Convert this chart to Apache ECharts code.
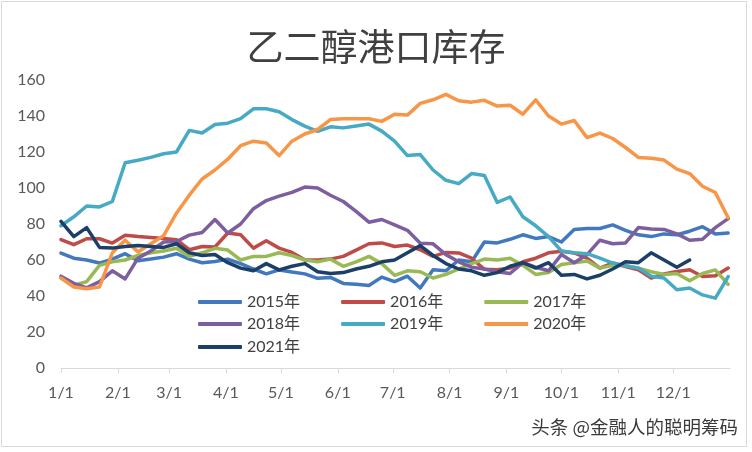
<!DOCTYPE html>
<html><head><meta charset="utf-8">
<script src="https://cdn.jsdelivr.net/npm/echarts@6/dist/echarts.min.js"></script>
<style>html,body{margin:0;padding:0;background:#fff}#c{width:752px;height:452px}</style>
</head><body><div id="c"></div>
<script>
const weekDates = ['01-01','01-08','01-15','01-22','01-29','02-05','02-12','02-19','02-26','03-05','03-12','03-19','03-26',
  '04-02','04-09','04-16','04-23','04-30','05-07','05-14','05-21','05-28','06-04','06-11','06-18','06-25',
  '07-02','07-09','07-16','07-23','07-30','08-06','08-13','08-20','08-27','09-03','09-10','09-17','09-24',
  '10-01','10-08','10-15','10-22','10-29','11-05','11-12','11-19','11-26','12-03','12-10','12-17','12-24','12-31'];
const seriesNames = ['2015年','2016年','2017年','2018年','2019年','2020年','2021年'];
const y2015 = [63.8,61,60,58.3,60.5,63.5,59.6,60.5,61.6,63.5,60.5,58.5,59.2,60.5,58,55,52.3,54.5,53.3,52.3,49.8,50.3,47,46.5,45.8,50.5,48,51,44.4,54.6,54,60,59,70,69.5,71.5,74,72,73,70,77,77.5,77.5,79.5,76.5,74,73,74.5,74,76,78.5,74.5,75];
const y2016 = [71.3,68.5,71.8,71.8,69.4,73.7,73,72.5,72,71.3,65.7,67.5,67.2,75,74,66.6,70.7,66.6,64.2,60.1,60,60.5,62,65.5,69,69.5,67.5,68.3,65.7,62,64.2,63.9,61,54.8,54.6,55.5,59,61,64,64.8,63.9,61,55.5,58.3,56.4,54.6,50,52.3,53.6,54.6,50.8,51.2,55.5];
const y2017 = [50,46,48,57,59,60,62.5,64,65,66.5,62,64,66.5,65.5,60,62,62,64,62.5,60,59,60.5,56.5,59,62,58,51.5,54,53.5,50,52,55,58,60.5,60,61,57,52,53,57.5,58.5,59.5,55.5,57,57,55.5,53.5,52,52.5,48.5,52.5,54.5,46.5];
const y2018 = [51,47,44.5,48,54,49.5,61,65,70,70.3,73.8,75.3,82.5,75,80,88.5,93,95.5,97.6,100.5,100,96,92.5,87,81,82.5,79.5,76.5,69.3,69,63,59,56,55,53.5,52.5,58.5,56,54,63,58.5,63,71,69,69.5,78,77.2,77,74.5,71,71.5,78,83];
const y2019 = [79,84,90,89.5,92.5,114,115.4,117,119,120,132,130.6,135.3,136,138.5,144,144,142.4,138,134.4,131.5,134,133.4,134.5,135.5,131.6,126,118,118.6,110,104.3,102.4,108,107,92,95,84,79,73,65,64,63.5,61,58.3,56.8,55.5,51,50,43.5,44.4,40.6,38.8,50.8];
const y2020 = [50,45,44,45,64,71,64.5,69,73.5,86,96,105,110,116,123.5,126,125,118,126,130,132.5,138,138.5,138.5,138.5,137,141,140.5,147,149,152,148.5,147.7,148.7,145.5,146,141,149,140,135.5,137.5,128,130.5,127.5,122.5,117,116.5,115.5,110.5,108,101,97.5,83.5];
const y2021 = [81.5,73,78,67,66.6,67.5,68,67.5,67,69,64,62.5,63,58.5,55.5,54,58,54.5,56.5,58,53.5,52.5,53,55,56.5,59,60,64,68,62.5,58,55,54,51.5,53,56.5,58.5,55.5,58.5,51.5,52,49.5,51.5,55,59,58.5,64,60,56,60];
const colors = ['#4178BE','#BE4B48','#98B954','#7D5FA0','#46AAC5','#F79646','#1B3F68'];
const allValues = [y2015,y2016,y2017,y2018,y2019,y2020,y2021];

const chart = echarts.init(document.getElementById('c'), null, {renderer:'canvas'});
const mk = v => v.map((y,i)=>['2021-'+weekDates[i], y]);
const font = 'Lato, "Noto Sans CJK SC", sans-serif';
const legendRow = (names, top) => ({left:193, top:top, itemGap:41, itemWidth:44, itemHeight:4, icon:'roundRect',
    data:names, textStyle:{fontFamily:font, fontSize:16, color:'#404040'}});
chart.setOption({
  animation:false,
  backgroundColor:'#fff',
  title:{text:'乙二醇港口库存', left:'center', top:23,
    textStyle:{fontFamily:'"Noto Sans CJK SC", sans-serif', fontSize:37, fontWeight:'normal', color:'#404040'}},
  grid:{left:61, right:22, top:80, bottom:84},
  legend:[legendRow(seriesNames.slice(0,3), 289), legendRow(seriesNames.slice(3,6), 311), legendRow(seriesNames.slice(6), 334)],
  xAxis:{type:'time', min:'2021-01-01', max:'2022-01-01', splitNumber:12,
    minInterval:28*864e5, maxInterval:31*864e5,
    axisLine:{lineStyle:{color:'#d9d9d9', width:1}},
    axisTick:{show:true, length:5, lineStyle:{color:'#d9d9d9'}},
    splitLine:{show:false},
    axisLabel:{formatter:v=>{const d=new Date(v); return d.getFullYear()>2021?'':(d.getMonth()+1)+'/'+d.getDate();},
      margin:17, color:'#595959', fontSize:16, fontFamily:font, hideOverlap:false}},
  yAxis:{type:'value', min:0, max:160, interval:20,
    axisLine:{show:false}, axisTick:{show:false}, splitLine:{show:false},
    axisLabel:{margin:16, color:'#595959', fontSize:16, fontFamily:font}},
  graphic:[
    {type:'rect', shape:{x:1.5, y:1.5, width:745, height:445}, style:{fill:'none', stroke:'#d9d9d9', lineWidth:1}, silent:true, z:-1},
    {type:'text', right:13, top:417, style:{text:'头条 @金融人的聪明筹码', fill:'#3a3a3a', font:'18.5px "Noto Sans CJK SC", sans-serif', stroke:'#fff', lineWidth:2}, z:100}
  ],
  series: allValues.map((v,i)=>({
    name:seriesNames[i], type:'line', data:mk(v), showSymbol:false, symbol:'none',
    lineStyle:{width:3.5, color:colors[i], cap:'round', join:'round'}, itemStyle:{color:colors[i]}
  }))
});
</script></body></html>
